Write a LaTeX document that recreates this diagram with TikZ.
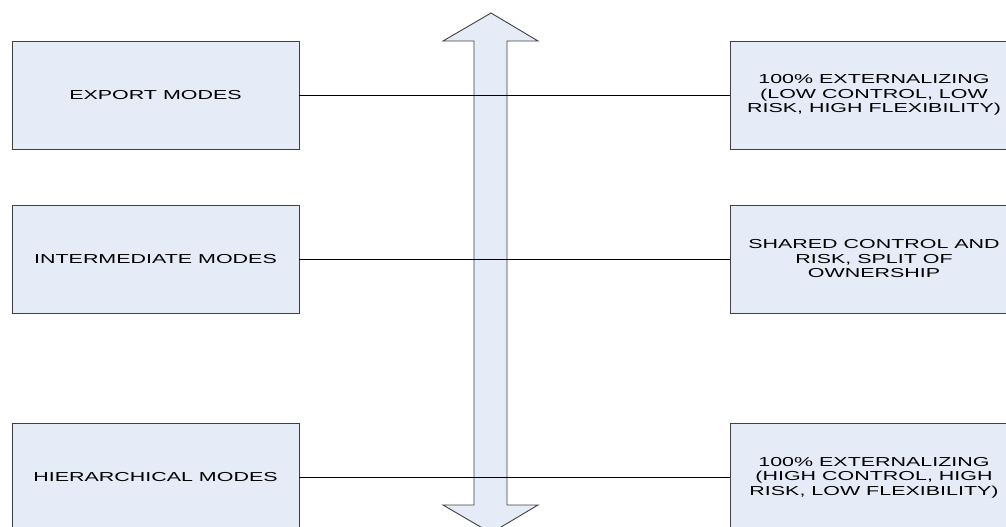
\documentclass[tikz,border=0pt]{standalone}
\usepackage{fontspec}
\usepackage{xcolor}
\usepackage{tikz}
\newfontfamily\boxfont[FakeStretch=1.65]{Liberation Sans}
\definecolor{boxblue}{RGB}{230,236,247}
\definecolor{boxline}{RGB}{64,64,64}

\tikzset{
  modebox/.style={draw=boxline, fill=boxblue, line width=0.9pt,
    minimum width=287pt, minimum height=108pt, inner sep=0pt,
    align=center, font=\boxfont\fontsize{13}{14.5}\selectfont, text=black},
  link/.style={line width=0.8pt, black}
}

\begin{document}
\begin{tikzpicture}[x=1pt, y=-1pt]
  \useasboundingbox (0,0) rectangle (1006,527);
  \clip (0,0) rectangle (1006,527);

  % ---------------- double arrow (middle) ----------------
  \filldraw[fill=boxblue, draw=boxline, line width=0.9pt]
    (491,13) -- (538,41) -- (507,41) -- (507,505) -- (538,505)
    -- (491,533) -- (443,505) -- (474,505) -- (474,41) -- (443,41) -- cycle;

  % ---------------- modes (left) ----------------
  \node[modebox] (export) at (155.5,95) {EXPORT MODES};
  \node[modebox] (inter)  at (155.5,259) {INTERMEDIATE MODES};
  \node[modebox] (hier)   at (155.5,477.5) {HIERARCHICAL MODES};

  % ---------------- outcomes (right) ----------------
  \node[modebox] (lowctl)  at (874,95)
    {100\% EXTERNALIZING\\(LOW CONTROL, LOW\\RISK, HIGH FLEXIBILITY)};
  \node[modebox] (shared)  at (874,259)
    {SHARED CONTROL AND\\RISK, SPLIT OF\\OWNERSHIP};
  \node[modebox] (highctl) at (874,477.5)
    {100\% EXTERNALIZING\\(HIGH CONTROL, HIGH\\RISK, LOW FLEXIBILITY)};

  % ---------------- links ----------------
  \foreach \a/\b in {export/lowctl, inter/shared, hier/highctl}
    \draw[link] (\a.east) -- (\b.west);
\end{tikzpicture}
\end{document}
